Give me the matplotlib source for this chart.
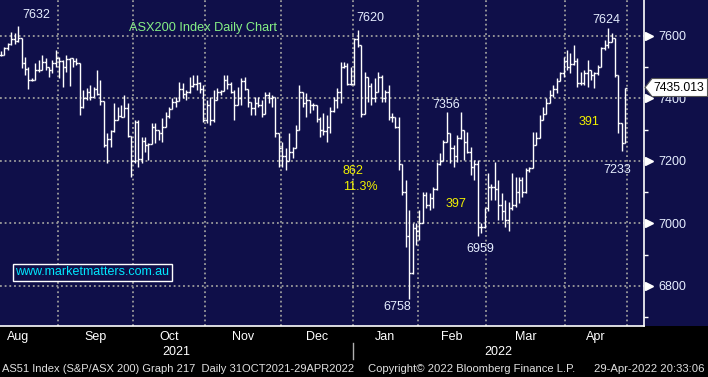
import matplotlib
matplotlib.use('Agg')
import matplotlib.pyplot as plt
import numpy as np
from matplotlib.collections import LineCollection
from matplotlib.patches import Polygon, Rectangle
import matplotlib.transforms as mtransforms

# ---------------- data ----------------
highs = [7552, 7566, 7578, 7614, 7609, 7632, 7582, 7534, 7502, 7465, 7512, 7523, 7540, 7530, 7496, 7523, 7555,
         7534, 7523, 7540, 7523, 7528, 7528, 7507, 7427, 7432, 7443, 7438, 7491, 7459, 7390, 7289, 7299, 7384, 7374,
         7380, 7411, 7385, 7278,
         7331, 7331, 7278, 7278, 7257, 7320, 7320, 7299, 7336, 7358, 7374, 7400, 7406, 7454, 7450, 7427, 7470, 7475,
         7475, 7454, 7443,
         7395, 7406, 7427, 7432, 7427, 7475, 7475, 7454, 7427, 7438, 7465, 7470, 7427, 7390, 7406, 7406, 7395, 7422,
         7422, 7411, 7406, 7283,
         7262, 7240, 7288, 7246, 7315, 7443, 7420, 7416, 7395, 7384, 7379, 7342, 7352, 7347, 7374, 7404, 7432, 7518,
         7518, 7512, 7502,
         7592, 7620, 7566, 7486, 7470, 7448, 7464, 7486, 7475, 7427, 7443, 7352, 7342, 7342, 7190, 7139, 7043, 7000,
         7000,
         7043, 7102, 7102, 7096, 7118, 7198, 7224, 7267, 7356, 7288, 7251, 7283, 7356, 7300, 7294, 7246, 7203, 7203,
         7000, 7048,
         7160, 7125, 7198, 7139, 7096, 7075, 7070, 7160, 7150, 7150, 7150, 7176, 7180, 7294, 7294, 7347, 7374, 7400,
         7427, 7443, 7464, 7486, 7534,
         7555, 7544, 7571, 7528, 7486, 7491, 7523, 7486, 7486, 7507, 7566, 7587, 7624, 7608, 7592, 7475, 7320, 7435]
lows = [7535, 7540, 7555, 7570, 7575, 7582, 7497, 7475, 7430, 7455, 7459, 7485, 7497, 7492, 7470, 7480, 7502,
        7465, 7438, 7485, 7440, 7502, 7507, 7347, 7368, 7395, 7395, 7411, 7411, 7380, 7246, 7193, 7246, 7294, 7336,
        7342, 7358, 7278, 7150,
        7193, 7182, 7193, 7230, 7203, 7257, 7257, 7267, 7262, 7310, 7336, 7374, 7374, 7400, 7400, 7395, 7416, 7438,
        7427, 7416, 7326,
        7320, 7315, 7326, 7395, 7410, 7427, 7430, 7416, 7331, 7379, 7379, 7427, 7374, 7347, 7347, 7374, 7342, 7352,
        7385, 7374, 7278, 7182,
        7182, 7171, 7200, 7208, 7240, 7300, 7374, 7342, 7352, 7363, 7326, 7278, 7283, 7262, 7288, 7358, 7368, 7384,
        7496, 7443, 7443,
        7443, 7566, 7342, 7350, 7390, 7379, 7390, 7420, 7390, 7390, 7331, 7326, 7304, 7171, 7091, 6925, 6758, 6838,
        6930,
        6947, 7000, 7048, 7043, 7048, 7107, 7187, 7200, 7262, 7192, 7182, 7198, 7270, 7203, 7224, 7155, 7139, 6959,
        6968, 6985,
        7040, 7075, 7075, 7011, 7011, 6990, 6975, 7043, 7054, 7064, 7086, 7096, 7165, 7176, 7251, 7272, 7331, 7350,
        7384, 7406, 7416, 7455, 7470,
        7491, 7480, 7507, 7438, 7443, 7443, 7438, 7459, 7432, 7475, 7500, 7555, 7560, 7580, 7470, 7288, 7233, 7256]
closes = [7540, 7560, 7575, 7590, 7585, 7595, 7512, 7495, 7460, 7458, 7490, 7490, 7518, 7500, 7490, 7515, 7530,
          7520, 7500, 7525, 7528, 7520, 7512, 7374, 7400, 7420, 7405, 7430, 7415, 7392, 7250, 7270, 7295, 7330, 7345,
          7340, 7370, 7280, 7200,
          7325, 7205, 7265, 7250, 7255, 7310, 7300, 7290, 7310, 7345, 7365, 7390, 7392, 7430, 7415, 7420, 7440, 7445,
          7450, 7430, 7330,
          7380, 7330, 7395, 7420, 7425, 7460, 7445, 7420, 7380, 7400, 7455, 7430, 7390, 7370, 7385, 7380, 7350, 7410,
          7400, 7405, 7290, 7240,
          7215, 7200, 7230, 7240, 7300, 7420, 7385, 7395, 7380, 7380, 7335, 7300, 7295, 7310, 7360, 7395, 7420, 7500,
          7505, 7445, 7445,
          7590, 7570, 7350, 7470, 7440, 7400, 7420, 7470, 7400, 7420, 7340, 7340, 7310, 7190, 7100, 6960, 6840, 6985,
          6975,
          7000, 7090, 7060, 7080, 7110, 7190, 7200, 7260, 7290, 7240, 7215, 7275, 7300, 7260, 7230, 7180, 7190, 6990,
          6990, 7048,
          7118, 7118, 7110, 7060, 7040, 7011, 7050, 7060, 7100, 7140, 7100, 7171, 7176, 7250, 7272, 7330, 7350, 7384,
          7410, 7430, 7455, 7480, 7520,
          7500, 7510, 7520, 7450, 7450, 7480, 7490, 7475, 7480, 7500, 7560, 7570, 7580, 7592, 7475, 7320, 7256, 7435]

month_labels = ['Aug', 'Sep', 'Oct', 'Nov', 'Dec', 'Jan', 'Feb', 'Mar', 'Apr']
month_bar_counts = [17, 22, 21, 22, 21, 19, 20, 23, 18]
aug_full_month_bars = 23
year_labels = ['2021', '2022']
price_ticks = [6800, 7000, 7200, 7400, 7600]
minor_price_ticks = [6700, 6900, 7100, 7300, 7500]
last_price = 7435.013
white_notes = ['7632', '7620', '7624', '7356', '7233', '6959', '6758']
yellow_notes = ['391', '862', '11.3%', '397']
chart_title = 'ASX200 Index Daily Chart'
website = 'www.marketmatters.com.au'
footer_left = 'AS51 Index (S&P/ASX 200) Graph 217  Daily 31OCT2021-29APR2022'
footer_mid = 'Copyright\u00a9 2022 Bloomberg Finance L.P.'
footer_right = '29-Apr-2022 20:33:06'

# ---------------- figure ----------------
W, H = 708, 377
NAVY = '#0f0f49'
FG = '#e6eeff'
fig = plt.figure(figsize=(W / 100, H / 100), dpi=100, facecolor='black')
fnt = 'Liberation Sans'

# navy background band behind the chart and the right-hand label area
bg = fig.add_axes([0, 1 - 326 / H, 1, 326 / H], zorder=-5)
bg.set_facecolor(NAVY)
bg.set_axis_off()
bg.add_patch(Rectangle((0, 0), 1, 1, transform=bg.transAxes, facecolor=NAVY, edgecolor='none'))

ax = fig.add_axes([0, 1 - 326 / H, 644 / W, 326 / H], zorder=1)
ax.set_facecolor(NAVY)
n = len(closes)
ax.set_xlim(-0.29, 187.46)
ax.set_ylim(6672, 7715)

opens = [closes[0]] + closes[:-1]
segs = []
for i in range(n):
    o, c = opens[i], closes[i]
    hi = max(highs[i], o, c)
    lo = min(lows[i], o, c)
    segs.append([(i, lo), (i, hi)])
    segs.append([(i - 0.5, o), (i, o)])
    segs.append([(i, c), (i + 0.5, c)])
lc = LineCollection(segs, colors='white', linewidths=1.0, zorder=3, capstyle='butt')
ax.add_collection(lc)

# grid
grid_kw = dict(color='#9c9c9c', lw=1.3, linestyle=(0, (1, 1.6)), zorder=1)
for p in price_ticks:
    ax.axhline(p, **grid_kw)
bounds = np.cumsum(month_bar_counts) - 0.5
for b in bounds:
    ax.axvline(b, **grid_kw)

for s in ['top', 'left']:
    ax.spines[s].set_visible(False)
ax.spines['right'].set_color('white')
ax.spines['bottom'].set_color('white')
ax.spines['right'].set_linewidth(1.2)
ax.spines['bottom'].set_linewidth(1.2)
ax.set_xticks([])
ax.yaxis.tick_right()
ax.set_yticks(price_ticks)
ax.set_yticklabels([str(p) for p in price_ticks], fontsize=9, color=FG, family=fnt)
ax.tick_params(axis='y', which='major', length=0, pad=10)
ax.set_yticks(minor_price_ticks, minor=True)
ax.tick_params(axis='y', which='minor', length=3, width=1, color='white', direction='out')

# triangles at major ticks
trans_r = mtransforms.blended_transform_factory(ax.transAxes, ax.transData)
ax.plot([1 + 4.5 / 644] * len(price_ticks), price_ticks, linestyle='none', marker='>', markersize=5.5,
        color='white', transform=trans_r, clip_on=False, zorder=5)

# last price box
yp = ax.transData.transform((0, last_price))[1] / H
hh = 9 / H
poly = Polygon([(645 / W, yp), (652 / W, yp + hh), (707.5 / W, yp + hh), (707.5 / W, yp - hh), (652 / W, yp - hh)],
               closed=True, transform=fig.transFigure, facecolor='white', edgecolor='#555555', lw=0.8, zorder=10)
fig.patches.append(poly)
fig.text(653 / W, yp, f'{last_price:.3f}', color='black', fontsize=8.8, family=fnt, va='center', ha='left',
         zorder=11)

# annotations
txt_kw = dict(fontsize=9, family=fnt, ha='center', va='center', zorder=6)
ax.text(10.2, 7667, white_notes[0], color=FG, **txt_kw)
ax.text(107.6, 7656, white_notes[1], color=FG, **txt_kw)
ax.text(176.4, 7651, white_notes[2], color=FG, **txt_kw)
ax.text(129.7, 7379, white_notes[3], color=FG, **txt_kw)
ax.text(179.6, 7171, white_notes[4], color=FG, **txt_kw)
ax.text(139.7, 6918, white_notes[5], color=FG, **txt_kw)
ax.text(115.5, 6733, white_notes[6], color=FG, **txt_kw)
YEL = '#f2f200'
ax.text(171.4, 7325, yellow_notes[0], color=YEL, **txt_kw)
ax.text(99.7, 7168, yellow_notes[1], color=YEL, fontsize=9, family=fnt, ha='left', va='center')
ax.text(99.7, 7117, yellow_notes[2], color=YEL, fontsize=9, family=fnt, ha='left', va='center')
ax.text(132.7, 7062, yellow_notes[3], color=YEL, **txt_kw)

ax.text(129 / 644, 1 - 28 / 326, chart_title, transform=ax.transAxes, color='#86f086', fontsize=9.2,
        family=fnt, ha='left', va='center')
ax.text(15 / 644, 1 - 272 / 326, website, transform=ax.transAxes, color='#00e8ff', fontsize=9,
        family=fnt, ha='left', va='center', zorder=8,
        bbox=dict(boxstyle='square,pad=0.2', facecolor=NAVY, edgecolor='white', lw=1.0))

# month labels
starts = np.concatenate([[0], np.cumsum(month_bar_counts)[:-1]])
ends = np.cumsum(month_bar_counts)
trans_x = mtransforms.blended_transform_factory(ax.transData, fig.transFigure)
for k, lab in enumerate(month_labels):
    s = starts[k] if k > 0 else ends[0] - aug_full_month_bars
    c = (s + ends[k]) / 2 - 0.5
    ax.text(c, 1 - 337 / H, lab, transform=trans_x, color='white', fontsize=9, family=fnt,
            ha='center', va='center', clip_on=False)
xmin, xmax = ax.get_xlim()
sep = bounds[4]
ax.text((-0.5 + sep) / 2, 1 - 352 / H, year_labels[0], transform=trans_x, color='white', fontsize=9,
        family=fnt, ha='center', va='center', clip_on=False)
ax.text((sep + xmax) / 2, 1 - 352 / H, year_labels[1], transform=trans_x, color='white', fontsize=9,
        family=fnt, ha='center', va='center', clip_on=False)
ax.plot([sep, sep], [1 - 343 / H, 1 - 359 / H], transform=trans_x, color='#b0b0b0', lw=1, clip_on=False)

# footer
fig.text(2 / W, 1 - 369 / H, footer_left, color='#e0e0e0', fontsize=8.0, family=fnt, ha='left', va='center')
fig.text(368 / W, 1 - 369 / H, footer_mid, color='#e0e0e0', fontsize=8.1, family=fnt, ha='left', va='center')
fig.text(705 / W, 1 - 369 / H, footer_right, color='#e0e0e0', fontsize=8.1, family=fnt, ha='right', va='center')

fig.savefig('out.png', dpi=100, facecolor='black')
